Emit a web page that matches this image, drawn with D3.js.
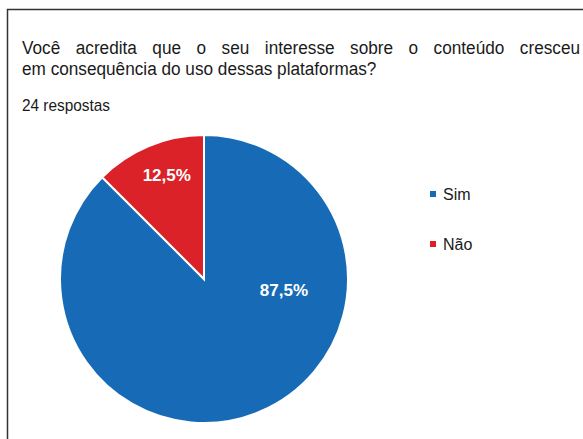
<!DOCTYPE html>
<html>
<head>
<meta charset="utf-8">
<script src="https://d3js.org/d3.v7.min.js"></script>
<style>
  body { margin: 0; background: #fff; }
  text { font-family: "Liberation Sans", Arial, sans-serif; }
</style>
</head>
<body>
<div id="chart"></div>
<script>
var title_lines = ["Você acredita que o seu interesse sobre o conteúdo cresceu",
                   "em consequência do uso dessas plataformas?"];
var subtitle = "24 respostas";

var categories = ["Sim", "Não"];
var values = [87.5, 12.5];
var colors = ["#176bb6", "#da2228"];

var width = 583, height = 439,
  squeeze = 0.905; // header font in the source is narrower than arial

var svg = d3.select("#chart").append("svg")
    .attr("width", width)
    .attr("height", height);

// frame (only left + top visible in the crop)
svg.append("path")
    .attr("d", "M7.5," + height + "V9.5H" + width)
    .style("fill", "none")
    .style("stroke", "#333")
    .style("stroke-width", 1.5);

// title, first line justified by word spacing
var title = svg.selectAll(".title")
    .data(title_lines)
  .enter().append("text")
    .attr("class", "title")
    .attr("transform", function(d, i){ return "translate(22," + (54 + i * 21) + ") scale(" + squeeze + ",1)"; })
    .style("font-size", "19px")
    .style("fill", "#1a1a1a")
    .text(function(d){ return d; });

title.filter(function(d, i){ return i == 0; })
    .each(function(d){
      var w = this.getComputedTextLength(),
        gaps = d.split(" ").length - 1;
      d3.select(this).style("word-spacing", ((558 / squeeze - w) / gaps) + "px");
    });

svg.append("text")
    .attr("transform", "translate(22,111) scale(" + squeeze + ",1)")
    .style("font-size", "17px")
    .style("fill", "#1a1a1a")
    .text(subtitle);

// pie
var cx = 204, cy = 279, r = 144;

var pie = d3.pie().sort(null).value(function(d){ return d; });
var arc = d3.arc().innerRadius(0).outerRadius(r);

var data = categories.map(function(c, i){ return { name: c, value: values[i], color: colors[i] }; });
var arcs = pie(data.map(function(d){ return d.value; }));

var g = svg.append("g").attr("transform", "translate(" + cx + "," + cy + ")");

g.selectAll(".slice")
    .data(arcs)
  .enter().append("path")
    .attr("class", "slice")
    .attr("d", arc)
    .style("fill", function(d, i){ return colors[i]; })
    .style("stroke", "#fff")
    .style("stroke-width", 2);

// labels: small slice near its mid angle, big slice pushed toward the right like google forms
function labelPos(d){
  var span = d.endAngle - d.startAngle;
  var a = span > Math.PI ? d.startAngle + Math.PI * 0.543 : (d.startAngle + d.endAngle) / 2 + 0.05;
  var rr = span > Math.PI ? r * 0.56 : r * 0.77;
  return [Math.sin(a) * rr, -Math.cos(a) * rr];
}

g.selectAll(".slice-label")
    .data(arcs)
  .enter().append("text")
    .attr("class", "slice-label")
    .attr("x", function(d){ return labelPos(d)[0]; })
    .attr("y", function(d){ return labelPos(d)[1]; })
    .attr("dy", "0.35em")
    .attr("text-anchor", "middle")
    .style("font-size", "17px")
    .style("font-weight", "bold")
    .style("fill", "#fff")
    .text(function(d){ return d3.format(".1f")(d.data).replace(".", ",") + "%"; });

// legend
var legend = svg.selectAll(".legend")
    .data(data)
  .enter().append("g")
    .attr("class", "legend")
    .attr("transform", function(d, i){ return "translate(430," + (194 + i * 50) + ")"; });

legend.append("rect")
    .attr("x", 0)
    .attr("y", -3)
    .attr("width", 6)
    .attr("height", 6)
    .style("fill", function(d){ return d.color; });

legend.append("text")
    .attr("x", 13)
    .attr("dy", "0.35em")
    .style("font-size", "16px")
    .style("fill", "#1a1a1a")
    .text(function(d){ return d.name; });
</script>
</body>
</html>
